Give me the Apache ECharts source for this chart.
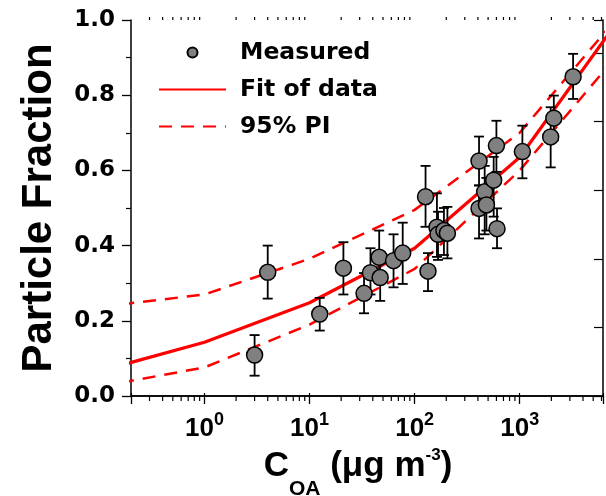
<!DOCTYPE html>
<html><head><meta charset="utf-8">
<script src="https://cdn.jsdelivr.net/npm/echarts@6/dist/echarts.min.js"></script>
<style>html,body{margin:0;padding:0;background:#fff}#c{width:606px;height:496px}</style>
</head><body><div id="c"></div>
<script>
// ---- data ----
const measuredX = [3.0, 4.0, 12.5, 21, 33, 38, 46, 47, 63, 77, 127, 134, 163, 167, 190, 205, 410, 410, 464, 482, 565, 600, 608, 1060, 1970, 2110, 3220];
const measuredY = [0.109, 0.329, 0.218, 0.340, 0.273, 0.328, 0.369, 0.315, 0.360, 0.380, 0.530, 0.332, 0.449, 0.430, 0.440, 0.433, 0.625, 0.499, 0.543, 0.508, 0.574, 0.666, 0.445, 0.650, 0.689, 0.739, 0.849];
const errLow = [0.054, 0.259, 0.174, 0.270, 0.220, 0.270, 0.300, 0.253, 0.289, 0.298, 0.450, 0.279, 0.370, 0.362, 0.375, 0.366, 0.560, 0.419, 0.430, 0.440, 0.477, 0.596, 0.393, 0.579, 0.608, 0.680, 0.790];
const errHigh = [0.162, 0.400, 0.261, 0.409, 0.327, 0.393, 0.440, 0.370, 0.430, 0.461, 0.612, 0.380, 0.539, 0.490, 0.500, 0.503, 0.690, 0.560, 0.612, 0.580, 0.636, 0.732, 0.499, 0.719, 0.768, 0.799, 0.910];
const fitX = [0.1, 1, 10, 100, 1000, 10000];
const fitY = [0.066, 0.143, 0.248, 0.393, 0.635, 1.023];
const piUpperY = [0.237, 0.270, 0.365, 0.495, 0.700, 1.030];
const piLowerY = [0.025, 0.076, 0.190, 0.338, 0.600, 0.930];
const xExponents = ['0', '1', '2', '3'];
const xMajorValues = [1, 10, 100, 1000];
const legendNames = ['Measured', 'Fit of data', '95% PI'];
const xMin = 0.2, xMax = 6200;

// minor tick positions (2..9 x each decade)
const minorTicks = [];
[0.1, 1, 10, 100, 1000].forEach(d => { for (let m = 2; m <= 9; m++) { const v = m * d; if (v > xMin && v < xMax) minorTicks.push(v); } });

const ARIAL = "'Liberation Sans', Arial, sans-serif";
const DEJA = "'DejaVu Sans', sans-serif";

const chart = echarts.init(document.getElementById('c'), null, {renderer: 'canvas'});
const pts = measuredX.map((x, i) => [x, measuredY[i]]);
const errs = measuredX.map((x, i) => [x, measuredY[i], errLow[i], errHigh[i]]);
const line = arr => fitX.map((x, i) => [x, arr[i]]);

chart.setOption({
  animation: false,
  backgroundColor: '#fff',
  grid: {left: 131, right: 3, top: 20, bottom: 100, containLabel: false, outerBoundsMode: 'none'},
  legend: {
    orient: 'vertical', left: 158, top: 39, padding: 0,
    itemWidth: 67, itemHeight: 10, itemGap: 10,
    data: [
      {name: legendNames[0]},
      {name: legendNames[1], itemStyle: {opacity: 0}},
      {name: legendNames[2], itemStyle: {opacity: 0}}
    ],
    textStyle: {fontFamily: DEJA, fontWeight: 'bold', fontSize: 23.5, color: '#000', lineHeight: 27, padding: [0, 0, 0, 9]}
  },
  xAxis: [{
    type: 'log', min: xMin, max: xMax, position: 'bottom',
    axisLine: {lineStyle: {color: '#000', width: 1.5}},
    axisTick: {show: true, length: 8, lineStyle: {color: '#000', width: 1.3}},
    splitLine: {show: false},
    axisLabel: {
      margin: 15,
      formatter: v => {
        const e = Math.round(Math.log10(v));
        const k = xMajorValues.indexOf(Math.pow(10, e));
        if (k < 0 || Math.abs(v - Math.pow(10, e)) / v > 1e-6) return '';
        return '{b|10}{s|' + xExponents[k] + '}';
      },
      rich: {
        b: {fontFamily: ARIAL, fontWeight: 'bold', fontSize: 26, color: '#000', verticalAlign: 'bottom'},
        s: {fontFamily: ARIAL, fontWeight: 'bold', fontSize: 18, color: '#000', verticalAlign: 'bottom', padding: [0, 0, 13, 0]}
      }
    },
    name: '{b|C}{sub|OA}{b| (μg m}{sup|-3}{b|)}',
    nameLocation: 'middle', nameGap: 49,
    nameTextStyle: {
      padding: [0, 18, 0, 0],
      rich: {
        b: {fontFamily: ARIAL, fontWeight: 'bold', fontSize: 35, color: '#000', verticalAlign: 'bottom', padding: [0, 0, 16, 0]},
        sub: {fontFamily: ARIAL, fontWeight: 'bold', fontSize: 21, color: '#000', verticalAlign: 'bottom'},
        sup: {fontFamily: ARIAL, fontWeight: 'bold', fontSize: 17, color: '#000', verticalAlign: 'bottom', padding: [0, 0, 36, 0]}
      }
    }
  }, {
    type: 'log', min: xMin, max: xMax, position: 'top',
    axisLine: {lineStyle: {color: '#000', width: 1.5}},
    axisTick: {show: true, length: 3, lineStyle: {color: '#000', width: 1.2}},
    axisLabel: {show: false}, splitLine: {show: false}
  }],
  yAxis: [{
    type: 'value', min: 0, max: 1, interval: 0.2, position: 'left',
    axisLine: {show: true, lineStyle: {color: '#000', width: 1.5}},
    axisTick: {show: true, length: 9, lineStyle: {color: '#000', width: 1.3}},
    minorTick: {show: true, splitNumber: 2, length: 5, lineStyle: {color: '#000', width: 1.2}},
    splitLine: {show: false},
    axisLabel: {margin: 16, formatter: v => v.toFixed(1), fontFamily: DEJA, fontWeight: 'bold', fontSize: 23, color: '#000'},
    name: 'Particle Fraction', nameLocation: 'middle', nameRotate: 90, nameGap: 71,
    nameTextStyle: {fontFamily: ARIAL, fontWeight: 'bold', fontSize: 42, color: '#000'}
  }, {
    type: 'value', min: 0, max: 5.48, interval: 1, position: 'right',
    axisLine: {show: true, lineStyle: {color: '#000', width: 1.5}},
    axisTick: {show: true, inside: true, length: 9, lineStyle: {color: '#000', width: 1.2}},
    axisLabel: {show: false}, splitLine: {show: false}
  }],
  series: [{
    name: '95% PI', type: 'line', data: line(piUpperY), symbol: 'none', clip: true,
    lineStyle: {color: '#ff0000', width: 2.5, type: [13, 9]}, itemStyle: {color: '#ff0000'}, z: 2
  }, {
    name: '95% PI', type: 'line', data: line(piLowerY), symbol: 'none', clip: true,
    lineStyle: {color: '#ff0000', width: 2.5, type: [13, 9]}, itemStyle: {color: '#ff0000'}, z: 2
  }, {
    name: 'Fit of data', type: 'line', data: line(fitY), symbol: 'none', clip: true,
    lineStyle: {color: '#ff0000', width: 3.2}, itemStyle: {color: '#ff0000'}, z: 3
  }, {
    name: 'errorbars', type: 'custom', data: errs, z: 4, silent: true,
    encode: {x: 0, y: 1},
    renderItem: (params, api) => {
      const x = api.value(0);
      const lo = api.coord([x, api.value(2)]);
      const hi = api.coord([x, api.value(3)]);
      const st = {stroke: '#000', lineWidth: 1.8};
      return {type: 'group', children: [
        {type: 'line', shape: {x1: lo[0], y1: lo[1], x2: hi[0], y2: hi[1]}, style: st},
        {type: 'line', shape: {x1: lo[0] - 5, y1: lo[1], x2: lo[0] + 5, y2: lo[1]}, style: st},
        {type: 'line', shape: {x1: hi[0] - 5, y1: hi[1], x2: hi[0] + 5, y2: hi[1]}, style: st}
      ]};
    }
  }, {
    name: 'Measured', type: 'scatter', data: pts, symbol: 'circle', symbolSize: 16, z: 5,
    itemStyle: {color: '#808080', borderColor: '#000', borderWidth: 1.5, opacity: 1}
  }, {
    name: 'minorticks', type: 'custom', data: minorTicks.map(v => [v, 0]), silent: true, clip: false,
    encode: {x: 0, y: 1}, z: 6,
    renderItem: (params, api) => {
      const v = api.value(0);
      const b = api.coord([v, 0]);
      const t = api.coord([v, 1]);
      const st = {stroke: '#000', lineWidth: 1.2};
      return {type: 'group', children: [
        {type: 'line', shape: {x1: b[0], y1: b[1], x2: b[0], y2: b[1] + 5}, style: st},
        {type: 'line', shape: {x1: t[0], y1: t[1], x2: t[0], y2: t[1] - 3}, style: st}
      ]};
    }
  }]
});
</script></body></html>
